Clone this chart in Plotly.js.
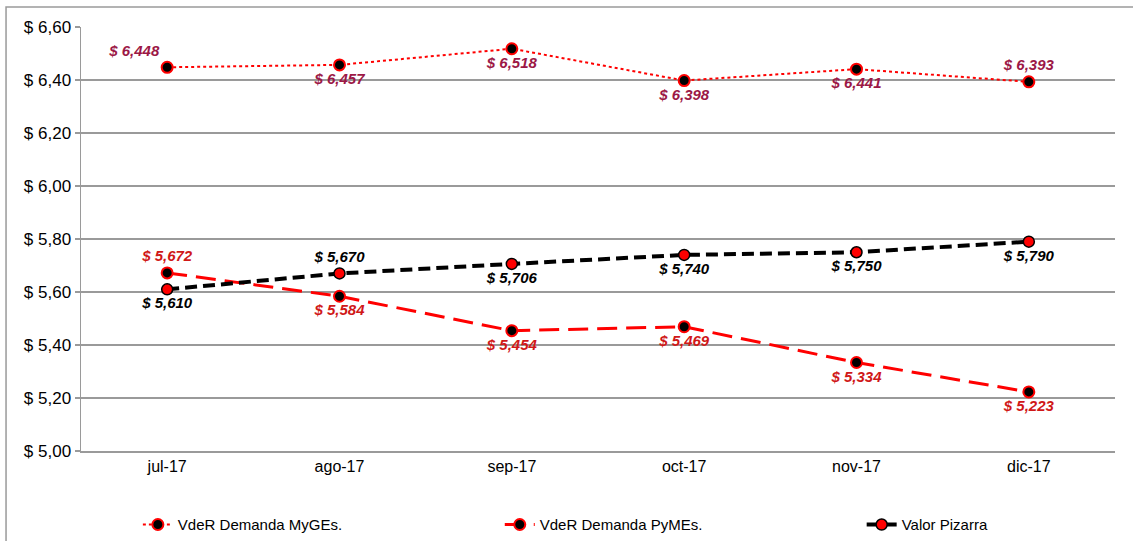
<!DOCTYPE html>
<html>
<head>
<meta charset="utf-8">
<script src="https://cdn.plot.ly/plotly-3.0.1.min.js"></script>
<style>html,body{margin:0;padding:0;background:#fff;}#chart{width:1133px;height:541px;}</style>
</head>
<body>
<div id="chart"></div>
<script>
const categories = ["jul-17", "ago-17", "sep-17", "oct-17", "nov-17", "dic-17"];
const mygesValues = [6.448, 6.457, 6.518, 6.398, 6.441, 6.393];
const pymesValues = [5.672, 5.584, 5.454, 5.469, 5.334, 5.223];
const pizarraValues = [5.610, 5.670, 5.706, 5.740, 5.750, 5.790];
const yTickVals = [5.0, 5.2, 5.4, 5.6, 5.8, 6.0, 6.2, 6.4, 6.6];
const yTickText = yTickVals.map(v => "$ " + v.toFixed(2).replace(".", ","));
const fmt = v => "$ " + v.toFixed(3).replace(".", ",");

const mygesPos = ["top left", "bottom center", "bottom center", "bottom center", "bottom center", "top center"];
const pymesPos = ["top center", "bottom center", "bottom center", "bottom center", "bottom center", "bottom center"];
const pizarraPos = ["bottom center", "top center", "bottom center", "bottom center", "bottom center", "bottom center"];

const FONT = "Liberation Sans, Arial, sans-serif";
const labelFont = (c) => ({family: FONT, size: 15, color: c, weight: "bold", style: "italic"});

const traces = [
  {
    name: "VdeR Demanda MyGEs.", legend: "legend",
    x: categories, y: mygesValues,
    mode: "lines+markers+text",
    line: {color: "#ff0000", width: 2, dash: "dot"},
    marker: {color: "#000000", size: 11, line: {color: "#ff0000", width: 2}},
    text: mygesValues.map(fmt),
    textposition: mygesPos,
    textfont: labelFont("#9c1846"),
    cliponaxis: false
  },
  {
    name: "VdeR Demanda PyMEs.", legend: "legend2",
    x: categories, y: pymesValues,
    mode: "lines+markers+text",
    line: {color: "#ff0000", width: 3, dash: "20px,9px"},
    marker: {color: "#000000", size: 11, line: {color: "#ff0000", width: 2}},
    text: pymesValues.map(fmt),
    textposition: pymesPos,
    textfont: labelFont("#d01818"),
    cliponaxis: false
  },
  {
    name: "Valor Pizarra", legend: "legend3",
    x: categories, y: pizarraValues,
    mode: "lines+markers+text",
    line: {color: "#000000", width: 4, dash: "12px,6px"},
    marker: {color: "#ff0000", size: 11, line: {color: "#000000", width: 1.5}},
    text: pizarraValues.map(fmt),
    textposition: pizarraPos,
    textfont: labelFont("#000000"),
    cliponaxis: false
  }
];

const legendBase = (x) => ({
  orientation: "h",
  x: x, xanchor: "left", xref: "paper",
  y: 0.03, yanchor: "middle", yref: "container",
  font: {family: FONT, size: 15, color: "#000000"},
  bgcolor: "rgba(0,0,0,0)"
});

const layout = {
  width: 1133, height: 541,
  margin: {l: 81, r: 18, t: 27, b: 90, autoexpand: false},
  paper_bgcolor: "#ffffff", plot_bgcolor: "#ffffff",
  font: {family: FONT, size: 15, color: "#000000"},
  showlegend: true,
  hovermode: false,
  xaxis: {
    type: "category",
    range: [-0.5, 5.5],
    showgrid: false,
    showline: true, linecolor: "#9a9a9a", linewidth: 1.5,
    ticks: "", tickfont: {size: 16},
    zeroline: false, automargin: false
  },
  yaxis: {
    range: [5.0, 6.6],
    tickvals: yTickVals,
    ticktext: yTickText,
    showgrid: true, gridcolor: "#9a9a9a", gridwidth: 1.5,
    showline: true, linecolor: "#9a9a9a", linewidth: 1.5,
    ticks: "outside", ticklen: 5, tickcolor: "#9a9a9a", tickwidth: 1.5,
    tickfont: {size: 17},
    zeroline: false, automargin: false
  },
  legend: legendBase(0.055),
  legend2: legendBase(0.405),
  legend3: legendBase(0.755),
  shapes: [
    {type: "rect", xref: "paper", yref: "paper",
     x0: -0.0725, x1: 1.2, y0: -0.4, y1: 1.047,
     line: {color: "#9a9a9a", width: 1.5}, fillcolor: "rgba(0,0,0,0)", layer: "below"}
  ]
};

Plotly.newPlot("chart", traces, layout, {displayModeBar: false, staticPlot: true});
</script>
</body>
</html>
